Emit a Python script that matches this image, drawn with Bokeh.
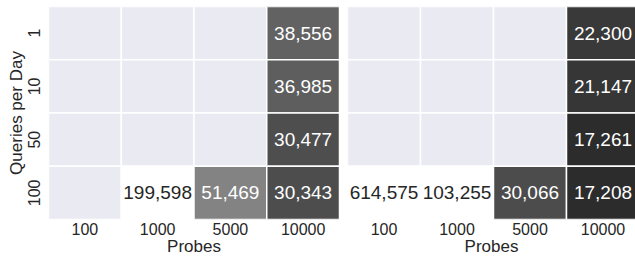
from bokeh.plotting import figure
from bokeh.layouts import row
from bokeh.models import ColumnDataSource, FixedTicker, Range1d, LinearColorMapper
from bokeh.palettes import Greys256
from bokeh.core.properties import value
from bokeh.embed import file_html
from bokeh.resources import INLINE

nan = float("nan")
probes = ["100", "1000", "5000", "10000"]
queries = ["1", "10", "50", "100"]  # top to bottom
left_values = [
    [nan, nan, nan, 38556],
    [nan, nan, nan, 36985],
    [nan, nan, nan, 30477],
    [nan, 199598, 51469, 30343],
]
right_values = [
    [nan, nan, nan, 22300],
    [nan, nan, nan, 21147],
    [nan, nan, nan, 17261],
    [614575, 103255, 30066, 17208],
]
vmin, vmax = 0, 100000

FONT = "Liberation Sans"
TXT = "#262626"
NAN_COLOR = "#EAEAF2"


def style_axis(ax, label, vertical=False):
    ax.axis_label = label
    ax.axis_line_color = None
    ax.major_tick_line_color = None
    ax.minor_tick_line_color = None
    ax.major_tick_out = 0
    ax.major_tick_in = 0
    ax.minor_tick_out = 0
    ax.minor_tick_in = 0
    ax.major_label_text_font = FONT
    ax.major_label_text_font_size = "16px"
    ax.major_label_text_color = TXT
    ax.axis_label_text_font = FONT
    ax.axis_label_text_font_style = "normal"
    ax.axis_label_text_font_size = "17px"
    ax.axis_label_text_color = TXT
    if vertical:
        ax.major_label_orientation = "vertical"


def make_panel(values, width, min_left, show_y, x_end):
    n = len(queries)
    p = figure(width=width, height=259, output_backend="svg", toolbar_location=None,
               x_range=Range1d(0, x_end), y_range=Range1d(0, n),
               min_border_left=min_left, min_border_right=0, min_border_top=6,
               min_border_bottom=40)
    p.outline_line_color = None
    p.grid.visible = False
    p.background_fill_color = "white"

    xs, ys, vals, labels, tcolors, nan_x, nan_y = [], [], [], [], [], [], []
    for i, q in enumerate(queries):
        for j, pr in enumerate(probes):
            v = values[i][j]
            x = j + 0.5
            y = n - i - 0.5
            if v != v:
                nan_x.append(x)
                nan_y.append(y)
            else:
                xs.append(x)
                ys.append(y)
                vals.append(v)
                labels.append(f"{v:,}")
                frac = min(max((v - vmin) / (vmax - vmin), 0), 1)
                tcolors.append("#262626" if frac > 0.7 else "white")

    mapper = LinearColorMapper(palette=Greys256, low=vmin, high=vmax,
                               high_color="#ffffff", low_color="#000000")
    p.rect(x=nan_x, y=nan_y, width=1, height=1, fill_color=NAN_COLOR,
           line_color="white", line_width=1.5)
    src = ColumnDataSource(dict(x=xs, y=ys, v=vals, label=labels, tc=tcolors))
    p.rect(x="x", y="y", width=1, height=1, source=src,
           fill_color={"field": "v", "transform": mapper},
           line_color="white", line_width=1.5)
    p.text(x="x", y="y", text="label", source=src, text_color="tc",
           text_align="center", text_baseline="middle",
           text_font=value(FONT), text_font_size="19px")

    p.xaxis.ticker = FixedTicker(ticks=[j + 0.5 for j in range(len(probes))])
    p.xaxis.major_label_overrides = {j + 0.5: pr for j, pr in enumerate(probes)}
    style_axis(p.xaxis[0], "Probes")
    p.xaxis.major_label_standoff = 3
    p.xaxis.axis_label_standoff = -1

    if show_y:
        p.yaxis.ticker = FixedTicker(ticks=[n - i - 0.5 for i in range(n)])
        p.yaxis.major_label_overrides = {n - i - 0.5: q for i, q in enumerate(queries)}
        style_axis(p.yaxis[0], "Queries per Day", vertical=True)
        p.yaxis.major_label_standoff = 9
        p.yaxis.axis_label_standoff = -1
    else:
        p.yaxis.visible = False
    return p


p1 = make_panel(left_values, 339, 48, True, 4)
p2 = make_panel(right_values, 296, 8, False, 288 / 73)
layout = row(p1, p2)

open("out.html", "w").write(file_html(layout, INLINE))
